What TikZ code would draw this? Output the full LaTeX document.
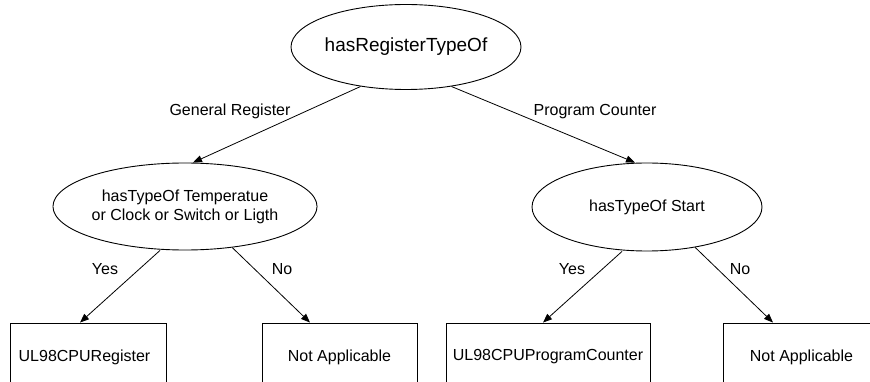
\documentclass[tikz,border=0pt]{standalone}
\usepackage{fontspec}
\setmainfont{Liberation Sans}
\usetikzlibrary{shapes.geometric,arrows.meta}
\begin{document}
\begin{tikzpicture}[x=1pt,y=-1pt,
  decision/.style={draw,ellipse,line width=0.9pt,inner sep=0pt,font=\fontsize{16}{19}\selectfont,align=center},
  leaf/.style={draw,rectangle,line width=0.9pt,inner sep=0pt,minimum height=68pt,font=\fontsize{16}{19}\selectfont},
  conn/.style={line width=0.8pt,-{Triangle[length=9pt,width=7pt]}},
  lbl/.style={font=\fontsize{16}{19}\selectfont,inner sep=0pt}]
\useasboundingbox (0,0) rectangle (870,382);
\clip (0,0) rectangle (870,382);
\node[decision,minimum width=227pt,minimum height=85pt,font=\fontsize{19}{22}\selectfont] (top) at (406,47) {hasRegisterTypeOf};
\node[decision,minimum width=228pt,minimum height=87pt] (l) at (185,206.5) {hasTypeOf Temperatue\\or Clock or Switch or Ligth};
\node[decision,minimum width=230pt,minimum height=88pt] (r) at (647,207) {hasTypeOf Start};
\node[leaf,minimum width=156pt] (b1) at (88,357) {\hspace{-7pt}UL98CPURegister};
\node[leaf,minimum width=155pt] (b2) at (339.5,357) {Not Applicable};
\node[leaf,minimum width=204pt] (b3) at (548,357) {UL98CPUProgramCounter};
\node[leaf,minimum width=157pt] (b4) at (801.5,357) {Not Applicable};
\draw[conn] (top.221) -- ([xshift=8pt]l.north);
\draw[conn] (top.319) -- ([xshift=-12pt]r.north);
\draw[conn] ([xshift=-25pt]l.south) -- ([xshift=-8pt]b1.north);
\draw[conn] (l.319) -- ([xshift=-29.5pt]b2.north);
\draw[conn] ([xshift=-25pt]r.south) -- ([xshift=-5pt]b3.north);
\draw[conn] (r.320) -- ([xshift=-28.5pt]b4.north);
\node[lbl] (lgr) at (230,111) {General Register};
\node[lbl] (lpc) at (595,112) {Program Counter};
\node[lbl] (ly1) at (105,269) {Yes};
\node[lbl] (ln1) at (282,269) {No};
\node[lbl] (ly2) at (572,269) {Yes};
\node[lbl] (ln2) at (740,269) {No};
\end{tikzpicture}
\end{document}
